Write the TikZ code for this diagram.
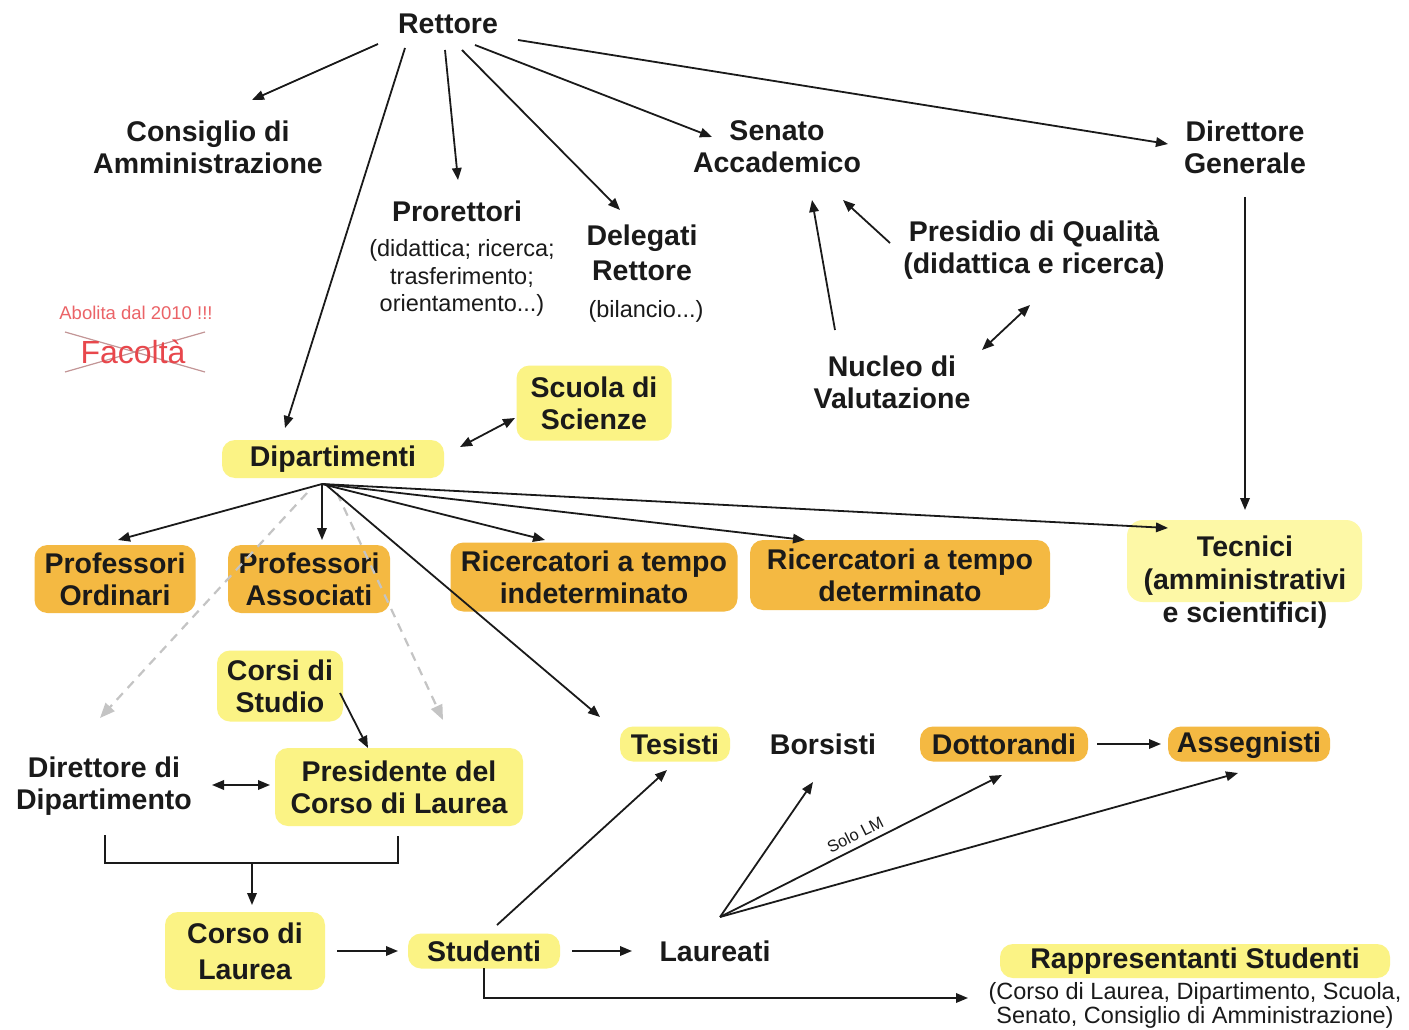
\documentclass[tikz,border=0pt]{standalone}
\usepackage{fontspec}
\setmainfont{Liberation Sans}
\usetikzlibrary{arrows.meta,calc,backgrounds}
\definecolor{yel}{HTML}{FBF385}
\definecolor{org}{HTML}{F4B942}
\definecolor{tecc}{HTML}{FDF8A6}
\definecolor{redt}{HTML}{E8474C}
\definecolor{dgray}{HTML}{C4C4C4}
\definecolor{ink}{HTML}{1A1A1A}
\tikzset{
  bt/.style={font=\bfseries\fontsize{28.5}{32}\selectfont, align=center, inner sep=0pt, text=ink},
  st/.style={font=\fontsize{23.5}{27.5}\selectfont, align=center, inner sep=0pt, text=ink},
  ybox/.style={bt, fill=yel, rounded corners=13pt},
  obox/.style={bt, fill=org, rounded corners=13pt},
  arr/.style={line width=1.8pt, ink, -{Triangle[length=12pt,width=9.5pt]}},
  darr/.style={line width=1.8pt, ink, {Triangle[length=12pt,width=9.5pt]}-{Triangle[length=12pt,width=9.5pt]}},
  garr/.style={line width=2.2pt, dgray, dash pattern=on 9pt off 7pt, -{Triangle[length=15pt,width=12pt]}},
  ln/.style={line width=1.8pt, ink},
}
\begin{document}
\begin{tikzpicture}[x=1pt,y=-1pt]
\useasboundingbox (0,0) rectangle (1409,1030);

% top level
\node[bt] (rettore) at (448,24) {Rettore};
\node[bt] (consiglio) at (208,147) {Consiglio di\\Amministrazione};
\node[bt] (pro) at (457,211) {Prorettori};
\node[st] (prosub) at (462,278) {(didattica; ricerca;\\trasferimento;\\orientamento...)};
\node[bt, font=\bfseries\fontsize{28.5}{35}\selectfont] (del) at (642,253) {Delegati\\Rettore};
\node[st] (delsub) at (646,311) {(bilancio...)};
\node[bt] (senato) at (777,147) {Senato\\Accademico};
\node[bt] (dg) at (1245,147) {Direttore\\Generale};
\node[bt] (presidio) at (1034,250) {Presidio di Qualità\\(didattica e ricerca)};
\node[bt] (nuc) at (892,382) {Nucleo di\\Valutazione};

% Facolta
\node[font=\fontsize{18.5}{20}\selectfont, text=redt!85] (abol) at (136,313) {Abolita dal 2010 !!!};
\node[font=\fontsize{32}{34}\selectfont, text=redt] (fac) at (133,352) {Facoltà};

% middle
\node[ybox, minimum width=155pt, minimum height=75pt] (scuola) at (594,403) {Scuola di\\Scienze};
\node[ybox, minimum width=222pt, minimum height=38pt] (dip) at (333,459) {Dipartimenti};
\node[obox, minimum width=161pt, minimum height=68pt] (po) at (115,579) {Professori\\Ordinari};
\node[obox, minimum width=162pt, minimum height=68pt] (pa) at (309,579) {Professori\\Associati};
\node[obox, minimum width=287pt, minimum height=69pt] (ri) at (594,577) {Ricercatori a tempo\\indeterminato};
\node[obox, minimum width=300pt, minimum height=70pt] (rd) at (900,575) {Ricercatori a tempo\\determinato};
\node[bt, font=\bfseries\fontsize{28.5}{33}\selectfont] (tec) at (1245,582) {Tecnici\\(amministrativi\\e scientifici)};

% lower left
\node[ybox, minimum width=126pt, minimum height=71pt] (cds) at (280,686) {Corsi di\\Studio};
\node[bt] (dd) at (104,786) {Direttore di\\Dipartimento};
\node[ybox, minimum width=248pt, minimum height=78pt] (pcl) at (399,787) {Presidente del\\Corso di Laurea};
\node[ybox, minimum width=160pt, minimum height=78pt, font=\bfseries\fontsize{28.5}{36}\selectfont] (cdl) at (245,951) {Corso di\\Laurea};
\node[ybox, minimum width=152pt, minimum height=35pt] (stu) at (484,951) {Studenti};
\node[bt] (lau) at (715,951) {Laureati};

% lower right
\node[ybox, minimum width=110pt, minimum height=35pt] (tes) at (675,744) {Tesisti};
\node[bt] (bor) at (823,744) {Borsisti};
\node[obox, minimum width=168pt, minimum height=35pt] (dot) at (1004,744) {Dottorandi};
\node[obox, minimum width=162pt, minimum height=35pt, text depth=4pt] (ass) at (1249,744) {Assegnisti};
\node[ybox, minimum width=390pt, minimum height=34pt] (rap) at (1195,961) {Rappresentanti Studenti};
\node[st, font=\fontsize{23.5}{24}\selectfont] (rapsub) at (1195,1005) {(Corso di Laurea, Dipartimento, Scuola,\\Senato, Consiglio di Amministrazione)};

% background layer: page, Tecnici fill, crossed-out lines
\begin{scope}[on background layer]
\fill[white] (0,0) rectangle (1409,1030);
\fill[tecc, rounded corners=16pt] ($(tec)+(-118,-62)$) rectangle ($(tec)+(117,20)$);
\draw[line width=1.2pt, redt!40!gray!70] ($(fac)+(-68,-20)$) -- ($(fac)+(72,20)$);
\draw[line width=1.2pt, redt!40!gray!70] ($(fac)+(-68,20)$) -- ($(fac)+(72,-20)$);
\end{scope}

% arrows from Rettore
\draw[arr] ($(rettore)+(-70,20)$) -- ($(consiglio)+(44,-47)$);
\draw[arr] ($(rettore)+(-43,24)$) -- ($(dip)+(-48,-31)$);
\draw[arr] ($(rettore)+(-3,26)$) -- ($(pro)+(1,-31)$);
\draw[arr] ($(rettore)+(14,26)$) -- ($(del)+(-22,-43)$);
\draw[arr] ($(rettore)+(27,21)$) -- ($(senato)+(-65,-10)$);
\draw[arr] ($(rettore)+(70,16)$) -- ($(dg)+(-77,-3)$);

% governance
\draw[arr] ($(dg)+(0,50)$) -- ($(tec)+(0,-72)$);
\draw[arr] ($(presidio)+(-144,-7)$) -- ($(senato)+(66,53)$);
\draw[arr] ($(nuc)+(-57,-52)$) -- ($(senato)+(35,53)$);
\draw[darr] ($(nuc)+(90,-32)$) -- ($(presidio)+(-4,55)$);
\draw[darr] ($(dip)+(127,-12)$) -- ($(scuola)+(-79,15)$);

% from Dipartimenti
\draw[garr] ($(dip)+(-26,34)$) -- ($(dd)+(-4,-68)$);
\draw[garr] ($(dip)+(4,34)$) -- ($(pcl)+(44,-67)$);
\draw[arr] ($(dip)+(-11,25)$) -- ($(po)+(3,-39)$);
\draw[arr] ($(dip)+(-11,25)$) -- ($(pa)+(13,-39)$);
\draw[arr] ($(dip)+(-11,25)$) -- ($(ri)+(-49,-37)$);
\draw[arr] ($(dip)+(-11,25)$) -- ($(rd)+(-95,-35)$);
\draw[arr] ($(dip)+(-11,25)$) -- ($(tec)+(-77,-54)$);
\draw[arr] ($(dip)+(-8,25)$) -- ($(tes)+(-75,-27)$);

% lower left
\draw[arr] ($(cds)+(60,7)$) -- ($(pcl)+(-31,-39)$);
\draw[darr] ($(dd)+(108,-1)$) -- ($(pcl)+(-129,-2)$);
\draw[ln] ($(dd)+(1,49)$) |- ($(pcl)+(-1,76)$) -- ($(pcl)+(-1,49)$);
\draw[arr] ($(dd)+(148,76)$) -- ($(cdl)+(7,-46)$);
\draw[arr] ($(cdl)+(92,0)$) -- ($(stu)+(-86,0)$);
\draw[arr] ($(stu)+(88,0)$) -- ($(lau)+(-83,0)$);
\draw[arr] ($(stu)+(13,-26)$) -- ($(tes)+(-8,26)$);
\draw[arr] ($(stu)+(0,17)$) |- ($(rap)+(-227,37)$);

% Laureati outcomes
\draw[arr] ($(lau)+(5,-34)$) -- ($(bor)+(-10,38)$);
\draw[arr] ($(lau)+(5,-34)$) -- node[sloped, above=6pt, pos=0.5, inner sep=0pt, font=\fontsize{16.5}{18}\selectfont, text=ink] (sololm) {Solo LM} ($(dot)+(-2,31)$);
\draw[arr] ($(lau)+(5,-34)$) -- ($(ass)+(-11,29)$);
\draw[arr] ($(dot)+(93,0)$) -- ($(ass)+(-88,0)$);
\end{tikzpicture}
\end{document}
